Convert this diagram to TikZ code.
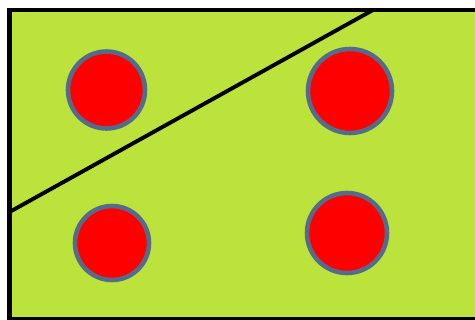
\documentclass[tikz,border=0pt]{standalone}
\usepackage{tikz}
\usetikzlibrary{positioning}

\definecolor{fieldgreen}{RGB}{188,226,60}
\definecolor{dotred}{RGB}{255,0,0}
\definecolor{dotrim}{RGB}{84,108,140}

\tikzset{
    dot/.style={circle, fill=dotred, draw=dotrim, line width=2.6pt, inner sep=0pt},
    cut/.style={line width=2.2pt, black}
}

\begin{document}
\begin{tikzpicture}[x=0.02cm, y=-0.02cm]
    % Frame
    \useasboundingbox (0,0) rectangle (475,320);
    \fill[white] (0,0) rectangle (475,320);
    \draw[fill=fieldgreen, line width=2.8pt] (9.5,10) rectangle (477,319);

    % Dots
    \node[dot, minimum size=1.54cm] (topleft) at (106.5,90) {};
    \node[dot, minimum size=1.68cm] (topright) at (350,91) {};
    \node[dot, minimum size=1.48cm] (botleft) at (112,243) {};
    \node[dot, minimum size=1.60cm] (botright) at (347,233) {};

    % Diagonal cut
    \coordinate (cutstart) at (9.5,212);
    \coordinate (cutend) at (373,10);
    \draw[cut] (cutstart) -- (cutend);
\end{tikzpicture}
\end{document}
